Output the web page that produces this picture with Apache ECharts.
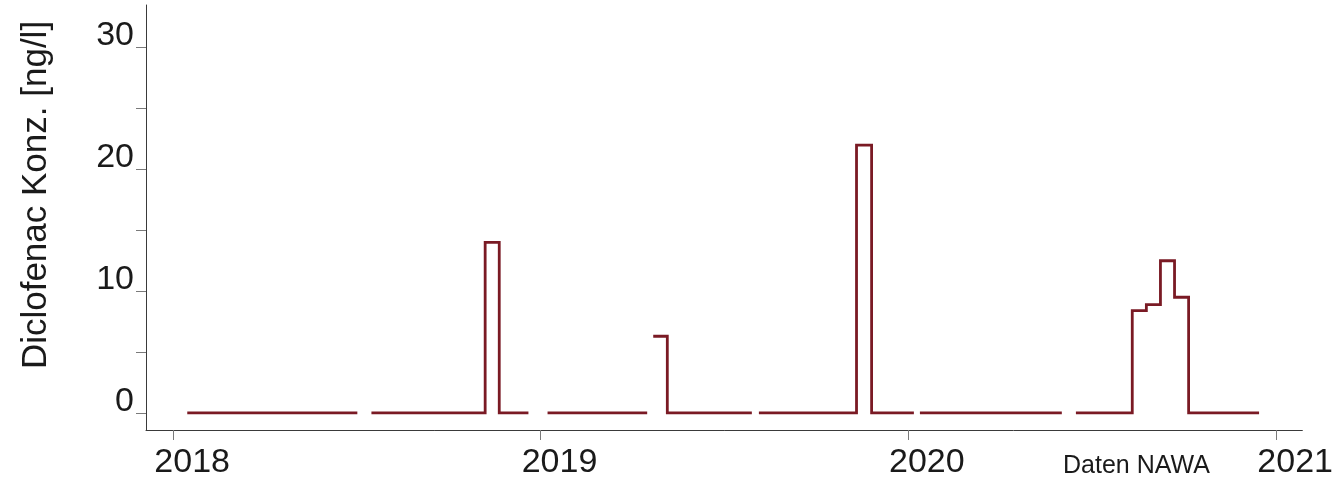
<!DOCTYPE html>
<html>
<head>
<meta charset="utf-8">
<script src="https://cdn.jsdelivr.net/npm/echarts@6/dist/echarts.min.js"></script>
<style>
  html, body { margin: 0; padding: 0; background: #ffffff; }
  #chart { width: 1336px; height: 482px; }
</style>
</head>
<body>
<div id="chart"></div>
<script>
// Break points of the step line (value holds until the next date).
// A null value ends a run of samples; its date repeats the run's last date.
const stepDates = [
  '2018-01-15', '2018-07-03', '2018-07-03',
  '2018-07-17', '2018-11-07', '2018-11-21', '2018-12-20', '2018-12-20',
  '2019-01-08', '2019-04-17', '2019-04-17',
  '2019-04-23', '2019-05-07', '2019-07-30', '2019-07-30',
  '2019-08-06', '2019-11-11', '2019-11-26', '2020-01-07', '2020-01-07',
  '2020-01-13', '2020-06-02', '2020-06-02',
  '2020-06-16', '2020-08-11', '2020-08-25', '2020-09-08', '2020-09-22', '2020-10-06', '2020-12-15'
];
const concentration = [
  0, 0, null,
  0, 14, 0, 0, null,
  0, 0, null,
  6.3, 0, 0, null,
  0, 22, 0, 0, null,
  0, 0, null,
  0, 8.4, 8.9, 12.5, 9.5, 0, 0
];

const yearTicks = ['2018-01-01', '2019-01-01', '2020-01-01', '2021-01-01'];
const yLabelValues = [0, 10, 20, 30];
const yTickValues = [0, 5, 10, 15, 20, 25, 30];

const yTitle = 'Diclofenac Konz. [ng/l]';
const sourceNote = 'Daten NAWA';

const FONT = '"Liberation Sans", Arial, sans-serif';
const toStamp = d => new Date(d + 'T00:00:00Z').getTime();
const yearStamps = yearTicks.map(toStamp);
const seriesData = stepDates.map((d, i) => [toStamp(d), concentration[i]]);

const chart = echarts.init(document.getElementById('chart'), null, { renderer: 'canvas' });

chart.setOption({
  animation: false,
  backgroundColor: '#ffffff',
  grid: { left: 146, right: 33, top: 5, bottom: 52, containLabel: false },
  xAxis: {
    type: 'value',
    min: toStamp('2017-12-05'),
    max: toStamp('2021-01-27'),
    axisLine: { show: true, onZero: false, lineStyle: { color: '#3a3a3a', width: 1 } },
    axisTick: {
      show: true, customValues: yearStamps, length: 10, inside: false,
      lineStyle: { color: '#7a7a7a', width: 1 }
    },
    axisLabel: {
      show: true,
      customValues: yearStamps,
      formatter: v => String(new Date(v).getUTCFullYear()),
      fontFamily: FONT, fontSize: 34, color: '#1a1a1a',
      margin: 16, align: 'center', padding: [0, 0, 0, 38],
      hideOverlap: false
    },
    splitLine: { show: false }
  },
  yAxis: {
    type: 'value',
    min: -1.4,
    max: 33.5,
    name: yTitle,
    nameLocation: 'middle',
    nameRotate: 90,
    nameGap: 92,
    nameTextStyle: {
      fontFamily: FONT, fontSize: 35, color: '#1a1a1a',
      padding: [0, 0, 0, 45]
    },
    axisLine: { show: true, onZero: false, lineStyle: { color: '#3a3a3a', width: 1 } },
    axisTick: {
      show: true, customValues: yTickValues, length: 10, inside: false,
      lineStyle: { color: '#7a7a7a', width: 1 }
    },
    axisLabel: {
      show: true,
      customValues: yLabelValues,
      fontFamily: FONT, fontSize: 34, color: '#1a1a1a',
      margin: 12, verticalAlign: 'bottom', lineHeight: 23
    },
    splitLine: { show: false }
  },
  graphic: [{
    type: 'text',
    left: 1063,
    top: 454,
    style: {
      text: sourceNote,
      font: '25px ' + FONT,
      fill: '#1a1a1a'
    }
  }],
  series: [{
    type: 'line',
    data: seriesData,
    step: 'end',
    connectNulls: false,
    showSymbol: false,
    symbol: 'none',
    lineStyle: { color: '#7a1a24', width: 2.8, cap: 'butt', join: 'miter' },
    emphasis: { disabled: true }
  }]
});
</script>
</body>
</html>
